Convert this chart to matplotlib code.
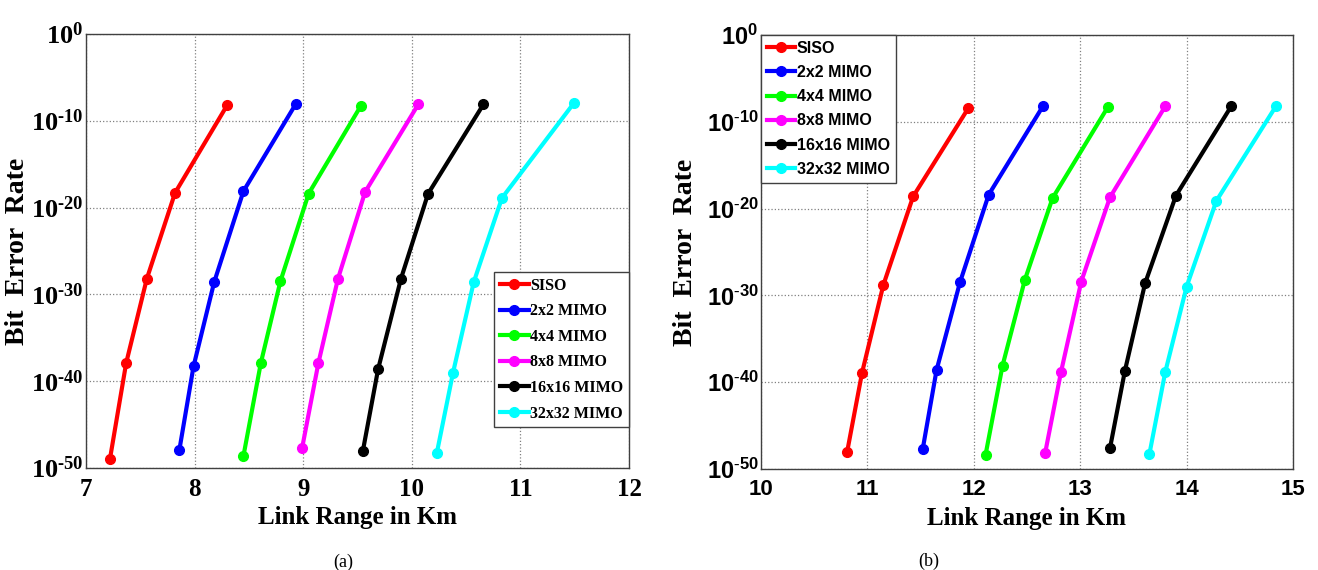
import numpy as np
import matplotlib
matplotlib.use("Agg")
import matplotlib.pyplot as plt

plt.rcParams['mathtext.fontset'] = 'custom'
plt.rcParams['mathtext.rm'] = 'Liberation Serif:bold'
plt.rcParams['mathtext.sf'] = 'Liberation Sans:bold'

labels = ['SISO', '2x2 MIMO', '4x4 MIMO', '8x8 MIMO', '16x16 MIMO', '32x32 MIMO']
colors = ['#ff0000', '#0000ff', '#00ff00', '#ff00ff', '#000000', '#00ffff']

# (a) link range (km) and log10(BER)
range_a = [
    [7.22, 7.37, 7.56, 7.82, 8.30],
    [7.86, 7.99, 8.18, 8.45, 8.93],
    [8.45, 8.61, 8.79, 9.05, 9.53],
    [8.99, 9.14, 9.32, 9.57, 10.06],
    [9.55, 9.69, 9.90, 10.15, 10.66],
    [10.23, 10.38, 10.57, 10.83, 11.49],
]
ber_exp_a = [
    [-49.0, -37.9, -28.2, -18.3, -8.2],
    [-47.9, -38.3, -28.6, -18.1, -8.1],
    [-48.6, -37.9, -28.5, -18.4, -8.3],
    [-47.7, -37.9, -28.2, -18.2, -8.1],
    [-48.0, -38.6, -28.2, -18.4, -8.1],
    [-48.3, -39.0, -28.6, -18.9, -8.0],
]

# (b)
range_b = [
    [10.81, 10.95, 11.15, 11.43, 11.95],
    [11.52, 11.65, 11.87, 12.14, 12.65],
    [12.11, 12.27, 12.48, 12.74, 13.26],
    [12.67, 12.82, 13.01, 13.28, 13.80],
    [13.28, 13.42, 13.61, 13.90, 14.42],
    [13.65, 13.80, 14.00, 14.28, 14.84],
]
ber_exp_b = [
    [-48.0, -38.9, -28.8, -18.6, -8.4],
    [-47.7, -38.6, -28.5, -18.4, -8.2],
    [-48.4, -38.1, -28.2, -18.8, -8.3],
    [-48.2, -38.8, -28.4, -18.7, -8.2],
    [-47.6, -38.7, -28.6, -18.5, -8.2],
    [-48.3, -38.8, -29.0, -19.1, -8.2],
]

yticks_exp = [-50, -40, -30, -20, -10, 0]

fig = plt.figure(figsize=(13.18, 5.70), dpi=100)
ax1 = fig.add_axes([0.06525, 0.17895, 0.41199, 0.76140])
ax2 = fig.add_axes([0.57739, 0.17719, 0.40364, 0.76140])


def exp_label(cmd, v):
    if v < 0:
        return r'$\%s{10^{\text{-}%d}}$' % (cmd, -v)
    return r'$\%s{10^{%d}}$' % (cmd, v)


def draw_panel(ax, xs, ys, xlim, tick_font, math_cmd, leg_size, leg_space,
               legend_loc, legend_anchor, ylab_x):
    for x, e, c, lab in zip(xs, ys, colors, labels):
        ax.plot(x, 10.0 ** np.array(e), '-o', color=c, lw=3, ms=7, label=lab)
    ax.set_yscale('log')
    ax.set_xlim(xlim)
    ax.set_ylim(1e-50, 1e0)
    ax.set_xticks(np.arange(xlim[0], xlim[1] + 1))
    ax.set_xticklabels([str(v) for v in range(xlim[0], xlim[1] + 1)],
                       fontdict=tick_font)
    ax.set_yticks([10.0 ** v for v in yticks_exp])
    ax.set_yticklabels([exp_label(math_cmd, v) for v in yticks_exp],
                       fontsize=tick_font['size'] + 1)
    ax.minorticks_off()
    ax.tick_params(axis='x', length=0, pad=7)
    ax.tick_params(axis='y', length=0, pad=2)
    ax.grid(True, which='major', linestyle=':', color='#808080', lw=0.9)
    for s in ax.spines.values():
        s.set_color('#404040')
        s.set_linewidth(1.0)
    ax.set_xlabel('Link Range in Km', family='Liberation Serif', weight='bold',
                  fontsize=18)
    ax.xaxis.set_label_coords(0.5, -0.115)
    ax.xaxis.label.set_va('center')
    ax.set_ylabel('Bit  Error  Rate', family='Liberation Serif', weight='bold',
                  fontsize=20)
    ax.yaxis.set_label_coords(ylab_x, 0.5)
    ax.yaxis.label.set_va('center')
    leg = ax.legend(loc=legend_loc, bbox_to_anchor=legend_anchor, borderaxespad=0,
                    prop=dict(tick_font, size=leg_size),
                    handlelength=1.8, handletextpad=0.1, labelspacing=leg_space,
                    fancybox=False, framealpha=1, edgecolor='#404040',
                    borderpad=0.35)
    leg.get_frame().set_linewidth(1.0)


serif_font = {'family': 'Liberation Serif', 'weight': 'bold', 'size': 18}
sans_font = {'family': 'Liberation Sans', 'weight': 'bold', 'size': 16}

draw_panel(ax1, range_a, ber_exp_a, (7, 12), serif_font, 'mathrm', 11.5, 0.6,
           'lower right', (1.0, 0.094), -0.126)
draw_panel(ax2, range_b, ber_exp_b, (10, 15), sans_font, 'mathsf', 11.5, 0.58,
           'upper left', (0.0, 1.0), -0.141)

fig.text(343 / 1318, 1 - 562 / 570, '(a)', family='Liberation Serif',
         fontsize=13, ha='center', va='center')
fig.text(929 / 1318, 1 - 561 / 570, '(b)', family='Liberation Serif',
         fontsize=13, ha='center', va='center')

fig.savefig('out.png', dpi=100)
